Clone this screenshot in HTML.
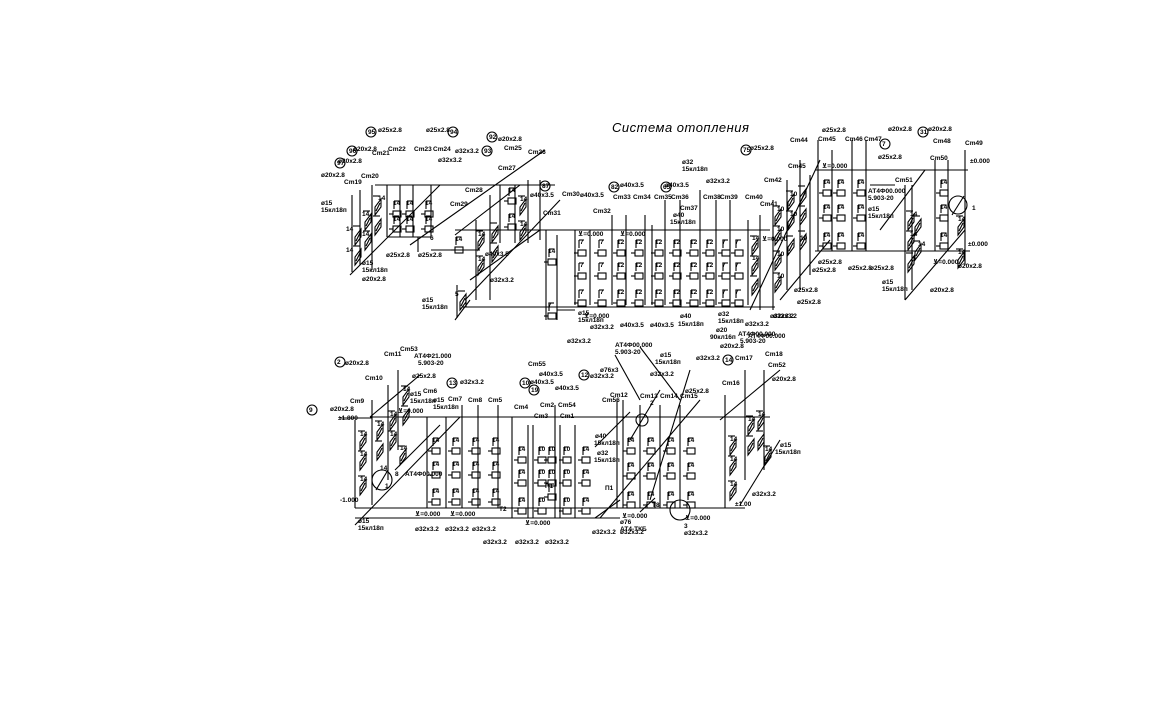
<!DOCTYPE html>
<html><head><meta charset="utf-8">
<style>
html,body{margin:0;padding:0;background:#fff;width:1167px;height:727px;overflow:hidden}
svg{display:block}
line,polyline,path,rect,circle,polygon{stroke:#000;stroke-width:1.1;fill:none}
text{font-family:"Liberation Sans","DejaVu Sans",sans-serif;font-size:6.5px;fill:#000;font-weight:bold}
.t{font-size:13px;font-style:italic;letter-spacing:0.5px;font-weight:normal}
</style></head><body>
<svg width="1167" height="727" viewBox="0 0 1167 727" xmlns="http://www.w3.org/2000/svg">
<defs>
<g id="r"><rect x="0" y="0" width="8" height="6"/><line x1="-4" y1="3" x2="0" y2="3"/><line x1="1" y1="-2" x2="1" y2="-10"/><line x1="1" y1="-10" x2="6" y2="-10"/></g>
<g id="p"><polygon points="0,10 6,2 6,-6 0,2"/><line x1="1" y1="6" x2="5" y2="-2"/><line x1="-2" y1="-9" x2="5" y2="-9"/></g>
</defs>
<rect width="1167" height="727" style="fill:#fff;stroke:none"/>
<text class="t" x="612" y="132">Система отопления</text>

<!-- ===== TOP SECTION pipes ===== -->
<polyline points="375,185 555,185"/>
<line x1="455" y1="230" x2="770" y2="230"/>
<line x1="462" y1="307" x2="775" y2="307"/>
<line x1="815" y1="170" x2="968" y2="170"/>
<line x1="815" y1="251" x2="970" y2="251"/>
<line x1="387" y1="237" x2="431" y2="237"/>
<line x1="387" y1="185" x2="387" y2="237"/><line x1="400" y1="185" x2="400" y2="237"/><line x1="413" y1="185" x2="413" y2="237"/><line x1="431" y1="185" x2="431" y2="237"/>
<line x1="418" y1="237" x2="418" y2="252"/><line x1="431" y1="250" x2="480" y2="250"/>
<line x1="500" y1="185" x2="500" y2="243"/><line x1="515" y1="185" x2="515" y2="243"/><line x1="528" y1="180" x2="528" y2="243"/><line x1="540" y1="180" x2="540" y2="240"/>
<line x1="476" y1="220" x2="476" y2="300"/><line x1="490" y1="195" x2="490" y2="300"/>
<line x1="466" y1="300" x2="466" y2="307"/>
<line x1="457" y1="285" x2="457" y2="318"/>
<line x1="360" y1="190" x2="360" y2="265"/><line x1="372" y1="185" x2="372" y2="270"/><line x1="352" y1="195" x2="352" y2="272"/>
<line x1="350" y1="275" x2="440" y2="185"/><line x1="410" y1="245" x2="545" y2="150"/>
<line x1="455" y1="235" x2="520" y2="185"/><line x1="470" y1="280" x2="540" y2="230"/>
<line x1="465" y1="300" x2="560" y2="200"/><line x1="455" y1="320" x2="470" y2="300"/>
<line x1="575" y1="230" x2="575" y2="305"/><line x1="590" y1="230" x2="590" y2="305"/>
<line x1="612" y1="215" x2="612" y2="305"/><line x1="626" y1="215" x2="626" y2="305"/>
<line x1="645" y1="215" x2="645" y2="305"/><line x1="652" y1="225" x2="652" y2="305"/>
<line x1="665" y1="200" x2="665" y2="305"/><line x1="680" y1="200" x2="680" y2="305"/>
<line x1="700" y1="190" x2="700" y2="305"/><line x1="716" y1="200" x2="716" y2="305"/>
<line x1="730" y1="200" x2="730" y2="305"/><line x1="748" y1="220" x2="748" y2="305"/>
<line x1="760" y1="215" x2="760" y2="310"/><line x1="773" y1="200" x2="773" y2="310"/>
<line x1="546" y1="230" x2="546" y2="320"/><line x1="557" y1="235" x2="557" y2="320"/>
<line x1="557" y1="310" x2="575" y2="310"/>
<line x1="750" y1="310" x2="820" y2="160"/><line x1="780" y1="300" x2="830" y2="240"/>
<line x1="800" y1="160" x2="800" y2="290"/><line x1="787" y1="180" x2="787" y2="290"/>
<line x1="810" y1="175" x2="810" y2="275"/>
<line x1="818" y1="140" x2="818" y2="251"/><line x1="832" y1="150" x2="832" y2="251"/>
<line x1="852" y1="140" x2="852" y2="251"/><line x1="866" y1="140" x2="866" y2="251"/>
<line x1="905" y1="185" x2="905" y2="300"/><line x1="912" y1="185" x2="912" y2="290"/>
<line x1="935" y1="160" x2="935" y2="251"/><line x1="948" y1="160" x2="948" y2="251"/>
<line x1="965" y1="150" x2="965" y2="265"/>
<line x1="905" y1="300" x2="965" y2="230"/><line x1="880" y1="230" x2="925" y2="170"/>
<line x1="870" y1="185" x2="895" y2="185"/>
<circle cx="958" cy="205" r="9"/><line x1="952" y1="215" x2="964" y2="196"/>
<use href="#r" x="393" y="211"/><use href="#r" x="406" y="211"/><use href="#r" x="425" y="211"/>
<use href="#r" x="393" y="226"/><use href="#r" x="406" y="226"/><use href="#r" x="425" y="226"/>
<use href="#r" x="508" y="198"/><use href="#r" x="508" y="224"/><use href="#r" x="455" y="247"/>
<use href="#r" x="548" y="259"/><use href="#r" x="548" y="313"/>
<use href="#r" x="578" y="250"/><use href="#r" x="598" y="250"/><use href="#r" x="617" y="250"/><use href="#r" x="635" y="250"/><use href="#r" x="655" y="250"/><use href="#r" x="673" y="250"/><use href="#r" x="690" y="250"/><use href="#r" x="706" y="250"/><use href="#r" x="722" y="250"/><use href="#r" x="735" y="250"/>
<use href="#r" x="578" y="273"/><use href="#r" x="598" y="273"/><use href="#r" x="617" y="273"/><use href="#r" x="635" y="273"/><use href="#r" x="655" y="273"/><use href="#r" x="673" y="273"/><use href="#r" x="690" y="273"/><use href="#r" x="706" y="273"/><use href="#r" x="722" y="273"/><use href="#r" x="735" y="273"/>
<use href="#r" x="578" y="300"/><use href="#r" x="598" y="300"/><use href="#r" x="617" y="300"/><use href="#r" x="635" y="300"/><use href="#r" x="655" y="300"/><use href="#r" x="673" y="300"/><use href="#r" x="690" y="300"/><use href="#r" x="706" y="300"/><use href="#r" x="722" y="300"/><use href="#r" x="735" y="300"/>
<use href="#r" x="823" y="190"/><use href="#r" x="837" y="190"/><use href="#r" x="857" y="190"/><use href="#r" x="940" y="190"/>
<use href="#r" x="823" y="215"/><use href="#r" x="837" y="215"/><use href="#r" x="857" y="215"/><use href="#r" x="940" y="215"/>
<use href="#r" x="823" y="243"/><use href="#r" x="837" y="243"/><use href="#r" x="857" y="243"/><use href="#r" x="940" y="243"/>
<use href="#p" x="355" y="235"/><use href="#p" x="355" y="255"/><use href="#p" x="365" y="220"/><use href="#p" x="365" y="240"/><use href="#p" x="375" y="205"/><use href="#p" x="375" y="225"/>
<use href="#p" x="478" y="240"/><use href="#p" x="478" y="265"/><use href="#p" x="492" y="232"/><use href="#p" x="492" y="252"/><use href="#p" x="520" y="205"/><use href="#p" x="520" y="230"/><use href="#p" x="460" y="300"/>
<use href="#p" x="752" y="245"/><use href="#p" x="752" y="265"/><use href="#p" x="752" y="285"/>
<use href="#p" x="775" y="215"/><use href="#p" x="775" y="235"/><use href="#p" x="775" y="260"/><use href="#p" x="775" y="282"/>
<use href="#p" x="788" y="200"/><use href="#p" x="788" y="220"/><use href="#p" x="788" y="245"/><use href="#p" x="800" y="195"/><use href="#p" x="800" y="215"/><use href="#p" x="800" y="240"/>
<use href="#p" x="908" y="220"/><use href="#p" x="908" y="240"/><use href="#p" x="908" y="262"/><use href="#p" x="915" y="225"/><use href="#p" x="915" y="250"/><use href="#p" x="958" y="225"/><use href="#p" x="958" y="258"/>
<g>
<text x="393" y="205">14</text><text x="406" y="205">14</text><text x="425" y="205">14</text>
<text x="393" y="221">14</text><text x="406" y="221">14</text><text x="425" y="221">14</text>
<text x="508" y="192">14</text><text x="508" y="218">14</text><text x="455" y="241">14</text><text x="548" y="253">14</text><text x="548" y="307">7</text>
<text x="580" y="244">7</text><text x="600" y="244">7</text><text x="617" y="244">12</text><text x="635" y="244">12</text><text x="655" y="244">12</text><text x="673" y="244">12</text><text x="690" y="244">12</text><text x="706" y="244">12</text><text x="722" y="244">7</text><text x="735" y="244">7</text>
<text x="580" y="267">7</text><text x="600" y="267">7</text><text x="617" y="267">12</text><text x="635" y="267">12</text><text x="655" y="267">12</text><text x="673" y="267">12</text><text x="690" y="267">12</text><text x="706" y="267">12</text><text x="722" y="267">7</text><text x="735" y="267">7</text>
<text x="580" y="294">7</text><text x="600" y="294">7</text><text x="617" y="294">12</text><text x="635" y="294">12</text><text x="655" y="294">12</text><text x="673" y="294">12</text><text x="690" y="294">12</text><text x="706" y="294">12</text><text x="722" y="294">7</text><text x="735" y="294">7</text>
<text x="823" y="184">14</text><text x="837" y="184">14</text><text x="857" y="184">14</text><text x="940" y="184">14</text>
<text x="823" y="209">14</text><text x="837" y="209">14</text><text x="857" y="209">14</text><text x="940" y="209">14</text>
<text x="823" y="237">14</text><text x="837" y="237">14</text><text x="857" y="237">14</text><text x="940" y="237">14</text>
<text x="346" y="231">14</text><text x="346" y="252">14</text><text x="362" y="216">14</text><text x="362" y="236">14</text><text x="378" y="200">14</text>
<text x="478" y="236">14</text><text x="478" y="261">14</text><text x="520" y="201">14</text><text x="520" y="226">14</text><text x="455" y="296">5</text>
<text x="752" y="240">14</text><text x="752" y="260">14</text><text x="777" y="211">10</text><text x="777" y="231">10</text><text x="777" y="256">10</text><text x="777" y="278">10</text><text x="790" y="196">10</text><text x="790" y="216">10</text><text x="800" y="240">10</text>
<text x="910" y="216">14</text><text x="910" y="236">14</text><text x="918" y="246">14</text><text x="958" y="221">14</text><text x="958" y="254">14</text><text x="972" y="210">1</text>

<text x="321" y="177">ø20х2.8</text><text x="338" y="163">ø20х2.8</text><text x="353" y="151">ø20х2.8</text><text x="378" y="132">ø25х2.8</text><text x="426" y="132">ø25х2.8</text>
<text x="344" y="184">Cm19</text><text x="361" y="178">Cm20</text><text x="372" y="155">Cm21</text><text x="388" y="151">Cm22</text><text x="414" y="151">Cm23</text><text x="433" y="151">Cm24</text>
<text x="455" y="153">ø32х3.2</text><text x="438" y="162">ø32х3.2</text><text x="498" y="141">ø20х2.8</text><text x="504" y="150">Cm25</text><text x="528" y="154">Cm26</text><text x="498" y="170">Cm27</text>
<text x="465" y="192">Cm28</text><text x="450" y="206">Cm29</text><text x="321" y="205">ø15</text><text x="321" y="212">15кл18п</text><text x="362" y="265">ø15</text><text x="362" y="272">15кл18п</text><text x="362" y="281">ø20х2.8</text>
<text x="386" y="257">ø25х2.8</text><text x="418" y="257">ø25х2.8</text><text x="430" y="240">6</text><text x="485" y="256">ø40х3.5</text><text x="490" y="282">ø32х3.2</text>
<text x="422" y="302">ø15</text><text x="422" y="309">15кл18п</text>
<text x="530" y="197">ø40х3.5</text><text x="562" y="196">Cm30</text><text x="580" y="197">ø40х3.5</text><text x="613" y="199">Cm33</text><text x="633" y="199">Cm34</text><text x="543" y="215">Cm31</text><text x="593" y="213">Cm32</text>
<text x="620" y="187">ø40х3.5</text><text x="665" y="187">ø40х3.5</text><text x="654" y="199">Cm35</text><text x="671" y="199">Cm36</text><text x="680" y="210">Cm37</text><text x="703" y="199">Cm38</text><text x="720" y="199">Cm39</text><text x="745" y="199">Cm40</text>
<text x="682" y="164">ø32</text><text x="682" y="171">15кл18п</text><text x="706" y="183">ø32х3.2</text><text x="764" y="182">Cm42</text><text x="760" y="206">Cm41</text><text x="673" y="217">ø40</text><text x="670" y="224">15кл18п</text>
<text x="578" y="236">⊻=0.000</text><text x="620" y="236">⊻=0.000</text><text x="762" y="241">⊻=0.000</text><text x="584" y="318">⊻=0.000</text>
<text x="578" y="315">ø15</text><text x="578" y="322">15кл18п</text><text x="590" y="329">ø32х3.2</text><text x="620" y="327">ø40х3.5</text><text x="650" y="327">ø40х3.5</text><text x="680" y="318">ø40</text><text x="678" y="326">15кл18п</text>
<text x="718" y="316">ø32</text><text x="718" y="323">15кл18п</text><text x="745" y="326">ø32х3.2</text><text x="770" y="318">ø32х3.2</text><text x="716" y="332">ø20</text><text x="710" y="339">90кл16п</text><text x="567" y="343">ø32х3.2</text>
<text x="750" y="150">ø25х2.8</text><text x="790" y="142">Cm44</text><text x="788" y="168">Cm45</text><text x="822" y="132">ø25х2.8</text><text x="818" y="141">Cm45</text><text x="845" y="141">Cm46</text><text x="864" y="141">Cm47</text>
<text x="888" y="131">ø20х2.8</text><text x="878" y="159">ø25х2.8</text><text x="928" y="131">ø20х2.8</text><text x="933" y="143">Cm48</text><text x="930" y="160">Cm50</text><text x="965" y="145">Cm49</text><text x="895" y="182">Cm51</text>
<text x="868" y="193">АТ4Ф00.000</text><text x="868" y="200">5.903-20</text><text x="868" y="211">ø15</text><text x="868" y="218">15кл18п</text><text x="822" y="168">⊻=0.000</text>
<text x="970" y="163">±0.000</text><text x="968" y="246">±0.000</text><text x="933" y="264">⊻=0.000</text>
<text x="818" y="264">ø25х2.8</text><text x="848" y="270">ø25х2.8</text><text x="870" y="270">ø25х2.8</text><text x="812" y="272">ø25х2.8</text><text x="797" y="304">ø25х2.8</text><text x="794" y="292">ø25х2.8</text><text x="773" y="318">ø32х3.2</text>
<text x="930" y="292">ø20х2.8</text><text x="882" y="284">ø15</text><text x="882" y="291">15кл18п</text><text x="958" y="268">ø20х2.8</text><text x="748" y="338">АТ4Ф00.000</text>
</g>
<g>
<circle cx="340" cy="163" r="5"/><text x="337" y="165">97</text>
<circle cx="352" cy="151" r="5"/><text x="349" y="153">96</text>
<circle cx="371" cy="132" r="5"/><text x="368" y="134">95</text>
<circle cx="453" cy="132" r="5"/><text x="450" y="134">94</text>
<circle cx="492" cy="137" r="5"/><text x="489" y="139">92</text>
<circle cx="487" cy="151" r="5"/><text x="484" y="153">93</text>
<circle cx="545" cy="186" r="5"/><text x="542" y="188">87</text>
<circle cx="614" cy="187" r="5"/><text x="611" y="189">82</text>
<circle cx="666" cy="187" r="5"/><text x="663" y="189">65</text>
<circle cx="746" cy="150" r="5"/><text x="743" y="152">75</text>
<circle cx="885" cy="144" r="5"/><text x="882" y="146">7</text>
<circle cx="923" cy="132" r="5"/><text x="920" y="134">31</text>
</g>

<!-- ===== BOTTOM SECTION ===== -->
<line x1="370" y1="417" x2="770" y2="417"/>
<line x1="355" y1="508" x2="745" y2="508"/>
<line x1="355" y1="518" x2="620" y2="518"/>
<line x1="355" y1="420" x2="355" y2="508"/><line x1="372" y1="400" x2="372" y2="505"/>
<line x1="388" y1="385" x2="388" y2="480"/><line x1="398" y1="370" x2="398" y2="450"/>
<line x1="427" y1="417" x2="427" y2="508"/><line x1="446" y1="417" x2="446" y2="508"/><line x1="462" y1="405" x2="462" y2="508"/><line x1="478" y1="405" x2="478" y2="508"/><line x1="498" y1="405" x2="498" y2="508"/>
<line x1="512" y1="417" x2="512" y2="518"/><line x1="528" y1="425" x2="528" y2="518"/><line x1="533" y1="425" x2="533" y2="518"/><line x1="555" y1="405" x2="555" y2="518"/><line x1="560" y1="425" x2="560" y2="518"/><line x1="575" y1="425" x2="575" y2="518"/>
<line x1="617" y1="400" x2="617" y2="508"/><line x1="623" y1="400" x2="623" y2="508"/><line x1="640" y1="405" x2="640" y2="508"/><line x1="660" y1="405" x2="660" y2="508"/><line x1="680" y1="405" x2="680" y2="508"/>
<line x1="725" y1="395" x2="725" y2="508"/><line x1="745" y1="370" x2="745" y2="480"/><line x1="764" y1="370" x2="764" y2="470"/>
<line x1="355" y1="525" x2="460" y2="417"/><line x1="370" y1="417" x2="420" y2="375"/><line x1="395" y1="470" x2="440" y2="425"/>
<line x1="595" y1="447" x2="630" y2="412"/><line x1="595" y1="518" x2="620" y2="500"/>
<line x1="600" y1="518" x2="700" y2="400"/><line x1="630" y1="440" x2="660" y2="390"/>
<line x1="740" y1="505" x2="780" y2="440"/><line x1="720" y1="420" x2="780" y2="370"/>
<line x1="640" y1="347" x2="680" y2="400"/><line x1="615" y1="355" x2="640" y2="400"/>
<line x1="650" y1="500" x2="690" y2="370"/>
<circle cx="382" cy="480" r="10"/><line x1="376" y1="490" x2="388" y2="470"/>
<circle cx="642" cy="420" r="6"/><circle cx="680" cy="510" r="10"/>
<line x1="340" y1="418" x2="372" y2="418"/>
<line x1="655" y1="498" x2="640" y2="512"/>
<use href="#r" x="432" y="448"/><use href="#r" x="452" y="448"/><use href="#r" x="472" y="448"/><use href="#r" x="492" y="448"/>
<use href="#r" x="432" y="472"/><use href="#r" x="452" y="472"/><use href="#r" x="472" y="472"/><use href="#r" x="492" y="472"/>
<use href="#r" x="432" y="499"/><use href="#r" x="452" y="499"/><use href="#r" x="472" y="499"/><use href="#r" x="492" y="499"/>
<use href="#r" x="518" y="457"/><use href="#r" x="538" y="457"/><use href="#r" x="548" y="457"/><use href="#r" x="563" y="457"/><use href="#r" x="582" y="457"/>
<use href="#r" x="518" y="480"/><use href="#r" x="538" y="480"/><use href="#r" x="548" y="480"/><use href="#r" x="563" y="480"/><use href="#r" x="582" y="480"/>
<use href="#r" x="518" y="508"/><use href="#r" x="538" y="508"/><use href="#r" x="548" y="494"/><use href="#r" x="563" y="508"/><use href="#r" x="582" y="508"/>
<use href="#r" x="627" y="448"/><use href="#r" x="647" y="448"/><use href="#r" x="667" y="448"/><use href="#r" x="687" y="448"/>
<use href="#r" x="627" y="473"/><use href="#r" x="647" y="473"/><use href="#r" x="667" y="473"/><use href="#r" x="687" y="473"/>
<use href="#r" x="627" y="502"/><use href="#r" x="647" y="502"/><use href="#r" x="667" y="502"/><use href="#r" x="687" y="502"/>
<use href="#p" x="360" y="440"/><use href="#p" x="360" y="460"/><use href="#p" x="360" y="485"/><use href="#p" x="377" y="430"/><use href="#p" x="377" y="450"/><use href="#p" x="390" y="420"/><use href="#p" x="390" y="440"/><use href="#p" x="403" y="395"/><use href="#p" x="403" y="415"/><use href="#p" x="400" y="455"/>
<use href="#p" x="730" y="445"/><use href="#p" x="730" y="465"/><use href="#p" x="730" y="490"/><use href="#p" x="748" y="425"/><use href="#p" x="748" y="445"/><use href="#p" x="758" y="420"/><use href="#p" x="758" y="440"/><use href="#p" x="765" y="455"/>
<g>
<text x="432" y="442">14</text><text x="452" y="442">14</text><text x="472" y="442">14</text><text x="492" y="442">14</text>
<text x="432" y="466">14</text><text x="452" y="466">14</text><text x="472" y="466">14</text><text x="492" y="466">14</text>
<text x="432" y="493">14</text><text x="452" y="493">14</text><text x="472" y="493">14</text><text x="492" y="493">14</text>
<text x="518" y="451">14</text><text x="538" y="451">10</text><text x="548" y="451">10</text><text x="563" y="451">10</text><text x="582" y="451">14</text>
<text x="518" y="474">14</text><text x="538" y="474">10</text><text x="548" y="474">10</text><text x="563" y="474">10</text><text x="582" y="474">14</text>
<text x="518" y="502">14</text><text x="538" y="502">10</text><text x="545" y="488">П1</text><text x="563" y="502">10</text><text x="582" y="502">14</text>
<text x="627" y="442">14</text><text x="647" y="442">14</text><text x="667" y="442">14</text><text x="687" y="442">14</text>
<text x="627" y="467">14</text><text x="647" y="467">14</text><text x="667" y="467">14</text><text x="687" y="467">14</text>
<text x="627" y="496">14</text><text x="647" y="496">14</text><text x="667" y="496">14</text><text x="687" y="496">14</text>
<text x="360" y="436">14</text><text x="360" y="456">14</text><text x="360" y="481">14</text><text x="377" y="426">14</text><text x="390" y="416">14</text><text x="390" y="436">14</text><text x="403" y="391">14</text><text x="400" y="450">14</text><text x="380" y="470">14</text>
<text x="730" y="441">14</text><text x="730" y="461">14</text><text x="730" y="486">14</text><text x="748" y="421">14</text><text x="758" y="416">14</text><text x="765" y="451">14</text>
<text x="605" y="490">П1</text><text x="385" y="488">1</text><text x="395" y="476">8</text><text x="405" y="476">АТ4Ф00.000</text>

<text x="330" y="411">ø20х2.8</text><text x="338" y="420">±1.800</text><text x="340" y="502">-1.000</text><text x="345" y="365">ø20х2.8</text><text x="350" y="403">Cm9</text><text x="365" y="380">Cm10</text>
<text x="384" y="356">Cm11</text><text x="400" y="351">Cm53</text><text x="414" y="358">АТ4Ф21.000</text><text x="418" y="365">5.903-20</text><text x="412" y="378">ø25х2.8</text>
<text x="410" y="396">ø15</text><text x="410" y="403">15кл18п</text><text x="423" y="393">Cm6</text><text x="398" y="413">⊻=0.000</text>
<text x="433" y="402">ø15</text><text x="433" y="409">15кл18п</text><text x="448" y="401">Cm7</text><text x="468" y="402">Cm8</text><text x="488" y="402">Cm5</text>
<text x="460" y="384">ø32х3.2</text><text x="530" y="384">ø40х3.5</text><text x="528" y="366">Cm55</text><text x="539" y="376">ø40х3.5</text><text x="555" y="390">ø40х3.5</text>
<text x="514" y="409">Cm4</text><text x="540" y="407">Cm2</text><text x="558" y="407">Cm54</text><text x="534" y="418">Cm3</text><text x="560" y="418">Cm1</text>
<text x="358" y="523">ø15</text><text x="358" y="530">15кл18п</text><text x="415" y="531">ø32х3.2</text><text x="445" y="531">ø32х3.2</text><text x="472" y="531">ø32х3.2</text>
<text x="415" y="516">⊻=0.000</text><text x="450" y="516">⊻=0.000</text><text x="525" y="525">⊻=0.000</text><text x="499" y="511">T2</text>
<text x="483" y="544">ø32х3.2</text><text x="515" y="544">ø32х3.2</text><text x="545" y="544">ø32х3.2</text><text x="592" y="534">ø32х3.2</text><text x="620" y="534">ø32х3.2</text><text x="684" y="535">ø32х3.2</text>
<text x="600" y="372">ø76х3</text><text x="615" y="347">АТ4Ф00.000</text><text x="615" y="354">5.903-20</text><text x="590" y="378">ø32х3.2</text><text x="660" y="357">ø15</text><text x="655" y="364">15кл18п</text>
<text x="650" y="376">ø32х3.2</text><text x="696" y="360">ø32х3.2</text><text x="720" y="348">ø20х2.8</text><text x="740" y="343">5.903-20</text><text x="738" y="336">АТ4Ф00.000</text>
<text x="610" y="397">Cm12</text><text x="602" y="402">Cm56</text><text x="640" y="398">Cm13</text><text x="660" y="398">Cm14</text><text x="680" y="398">Cm15</text><text x="722" y="385">Cm16</text><text x="735" y="360">Cm17</text><text x="765" y="356">Cm18</text><text x="768" y="367">Cm52</text>
<text x="685" y="393">ø25х2.8</text><text x="772" y="381">ø20х2.8</text><text x="595" y="438">ø40</text><text x="594" y="445">15кл18п</text><text x="597" y="455">ø32</text><text x="594" y="462">15кл18п</text>
<text x="780" y="447">ø15</text><text x="775" y="454">15кл18п</text><text x="752" y="496">ø32х3.2</text><text x="735" y="506">±1.00</text><text x="685" y="520">⊻=0.000</text><text x="622" y="518">⊻=0.000</text>
<text x="620" y="524">ø76</text><text x="620" y="531">АТ4-ТКБ</text><text x="652" y="507">T8</text><text x="684" y="528">3</text><text x="650" y="405">2</text>
</g>
<g>
<circle cx="312" cy="410" r="5"/><text x="309" y="412">9</text>
<circle cx="340" cy="362" r="5"/><text x="337" y="364">2</text>
<circle cx="452" cy="383" r="5"/><text x="449" y="385">13</text>
<circle cx="525" cy="383" r="5"/><text x="522" y="385">10</text>
<circle cx="534" cy="390" r="5"/><text x="531" y="392">19</text>
<circle cx="584" cy="375" r="5"/><text x="581" y="377">12</text>
<circle cx="728" cy="360" r="5"/><text x="725" y="362">14</text>
</g>
</svg>
</body></html>
